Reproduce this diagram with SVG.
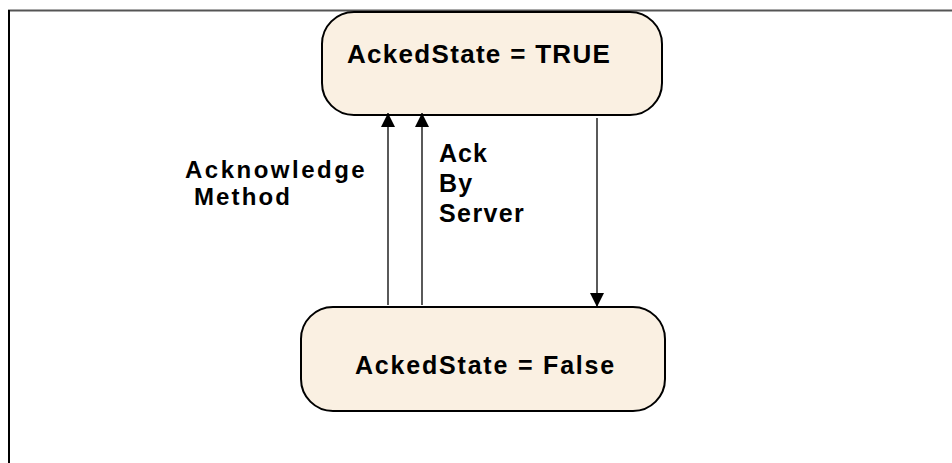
<svg xmlns="http://www.w3.org/2000/svg" width="952" height="463" viewBox="0 0 952 463">
<defs>
<style>
.node{fill:#FAF0E2;stroke:#000;stroke-width:2}
.t{font-family:"Liberation Sans",Arial,sans-serif;font-weight:bold;fill:#000}
.c{stroke:#000;stroke-width:1.3;fill:none}
</style>
<marker id="ah" viewBox="0 0 10 10" refX="10" refY="5" markerWidth="15" markerHeight="14" markerUnits="userSpaceOnUse" orient="auto">
<path d="M0,0 L10,5 L0,10 Z" fill="#000"/>
</marker>
</defs>
<rect width="952" height="463" fill="#fff"/>
<g id="frame">
<line x1="8" y1="10.5" x2="952" y2="10.5" stroke="#555" stroke-width="2"/>
<line x1="9" y1="10" x2="9" y2="463" stroke="#000" stroke-width="2"/>
</g>
<g id="node-true">
<rect class="node" x="322" y="12" width="340" height="103" rx="32"/>
<text class="t" x="347" y="63" font-size="26" letter-spacing="1.3">AckedState = TRUE</text>
</g>
<g id="node-false">
<rect class="node" x="301" y="307" width="364" height="104" rx="32"/>
<text class="t" x="355" y="374" font-size="25" letter-spacing="1.8">AckedState = False</text>
</g>
<g id="connectors">
<line class="c" x1="388" y1="305" x2="388" y2="113" marker-end="url(#ah)"/>
<line class="c" x1="422" y1="305" x2="422" y2="113" marker-end="url(#ah)"/>
<line class="c" x1="597" y1="118" x2="597" y2="307" marker-end="url(#ah)"/>
</g>
<g id="labels">
<text class="t" x="185" y="177.5" font-size="24" letter-spacing="2.5">Acknowledge</text>
<text class="t" x="194" y="205" font-size="24" letter-spacing="2.1">Method</text>
<text class="t" x="439" y="162" font-size="25" letter-spacing="1">Ack</text>
<text class="t" x="439" y="192" font-size="25" letter-spacing="1.2">By</text>
<text class="t" x="439" y="222" font-size="25" letter-spacing="1.4">Server</text>
</g>
</svg>
